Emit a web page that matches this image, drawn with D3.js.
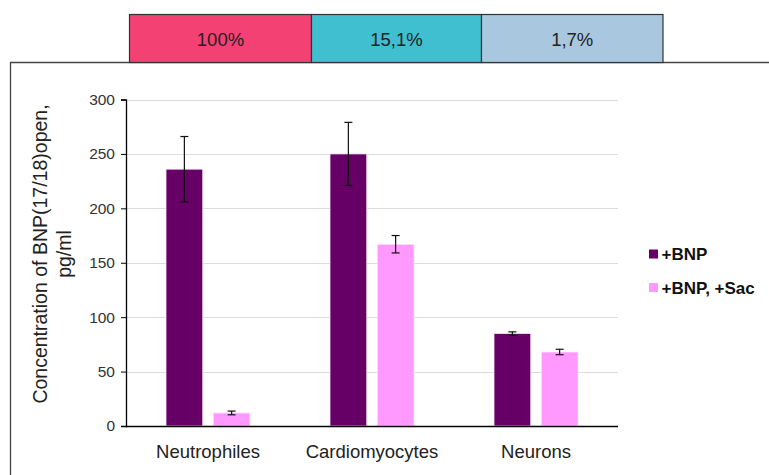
<!DOCTYPE html>
<html>
<head>
<meta charset="utf-8">
<script src="https://cdn.jsdelivr.net/npm/d3@7"></script>
<style>
  body { margin: 0; background: #fff; }
  svg { display: block; font-family: "Liberation Sans", Arial, sans-serif; }
</style>
</head>
<body>
<div id="chart"></div>
<script>
(function(){

    const width = 769;
    const height = 475;

    // data
    const cells = ['Neutrophiles', 'Cardiomyocytes', 'Neurons'];
    const series = ['+BNP', '+BNP, +Sac'];
    const bnp = [236, 250, 85];
    const bnpErr = [30, 29, 1.5];
    const bnpSac = [12, 167, 68];
    const bnpSacErr = [1.7, 8, 2.5];
    const yTicks = [0, 50, 100, 150, 200, 250, 300];
    const boxLabels = ['100%', '15,1%', '1,7%'];

    const colors = ['#660066', '#ff99ff'];
    const boxColors = ['#f44174', '#3fbfd0', '#a9c8df'];
    // header box edges (layout only)
    const boxEdges = [129.5, 311.5, 481.5, 663];

    const margin = {left: 126, right: 151, top: 99.5, bottom: 49};

    const svg = d3.select('#chart')
        .append('svg')
        .attr('width', width)
        .attr('height', height);

    // outer frame (top + left edges only visible)
    svg.append('path')
        .attr('d', 'M10.5,' + height + 'V62.5H' + width)
        .attr('fill', 'none')
        .attr('stroke', '#444')
        .attr('stroke-width', 1.3);

    // percentage boxes above the chart
    const boxes = svg.append('g');
    boxes.selectAll('rect')
        .data(boxLabels)
        .enter().append('rect')
        .attr('x', (d, i) => boxEdges[i])
        .attr('y', 14.5)
        .attr('width', (d, i) => boxEdges[i + 1] - boxEdges[i])
        .attr('height', 48)
        .attr('fill', (d, i) => boxColors[i])
        .attr('stroke', '#333')
        .attr('stroke-width', 1.2);
    boxes.selectAll('text')
        .data(boxLabels)
        .enter().append('text')
        .attr('x', (d, i) => (boxEdges[i] + boxEdges[i + 1]) / 2)
        .attr('y', 46)
        .attr('text-anchor', 'middle')
        .attr('font-size', 18.5)
        .attr('fill', '#222')
        .text(d => d);

    const x0 = d3.scaleBand()
        .domain(cells)
        .range([margin.left, width - margin.right]);

    const x1 = d3.scaleBand()
        .domain(series)
        .range([40, x0.bandwidth() - 40])
        .paddingInner(0.222);

    const y = d3.scaleLinear()
        .domain([0, 300])
        .range([height - margin.bottom, margin.top]);

    // gridlines
    svg.append('g')
        .selectAll('line')
        .data(yTicks.slice(1))
        .enter().append('line')
        .attr('x1', margin.left)
        .attr('x2', width - margin.right)
        .attr('y1', d => Math.round(y(d)) + 0.5)
        .attr('y2', d => Math.round(y(d)) + 0.5)
        .attr('stroke', '#dcdcdc')
        .attr('stroke-width', 1.2);

    // y axis
    const yAxis = svg.append('g')
        .attr('transform', 'translate(' + margin.left + ',0)')
        .call(d3.axisLeft(y).tickValues(yTicks).tickSize(5).tickPadding(6));
    yAxis.select('.domain').attr('stroke', '#000').attr('stroke-width', 1.3);
    yAxis.selectAll('.tick line').attr('stroke', '#000');
    yAxis.selectAll('text')
        .attr('font-size', 15.5)
        .attr('fill', '#333')
        .attr('font-family', '"Liberation Sans", Arial, sans-serif');

    const rows = cells.map((c, i) => ({
        cell: c,
        vals: [
            {s: series[0], v: bnp[i], e: bnpErr[i], c: colors[0]},
            {s: series[1], v: bnpSac[i], e: bnpSacErr[i], c: colors[1]}
        ]
    }));

    const groups = svg.append('g')
        .selectAll('g')
        .data(rows)
        .enter().append('g')
        .attr('transform', d => 'translate(' + x0(d.cell) + ',0)');

    groups.selectAll('rect')
        .data(d => d.vals)
        .enter().append('rect')
        .attr('x', d => x1(d.s))
        .attr('y', d => y(d.v))
        .attr('width', x1.bandwidth())
        .attr('height', d => y(0) - y(d.v))
        .attr('fill', d => d.c)
        .attr('stroke', '#ffe6ff')
        .attr('stroke-width', 0.8);

    // error bars
    const err = groups.selectAll('.err')
        .data(d => d.vals)
        .enter().append('g')
        .attr('class', 'err')
        .attr('stroke', '#111')
        .attr('stroke-width', 1.2);
    const cx = d => x1(d.s) + x1.bandwidth() / 2;
    err.append('line')
        .attr('x1', cx).attr('x2', cx)
        .attr('y1', d => y(d.v + d.e)).attr('y2', d => y(d.v - d.e));
    err.append('line')
        .attr('x1', d => cx(d) - 4).attr('x2', d => cx(d) + 4)
        .attr('y1', d => y(d.v + d.e)).attr('y2', d => y(d.v + d.e));
    err.append('line')
        .attr('x1', d => cx(d) - 4).attr('x2', d => cx(d) + 4)
        .attr('y1', d => y(d.v - d.e)).attr('y2', d => y(d.v - d.e));

    // x axis line
    svg.append('line')
        .attr('x1', margin.left)
        .attr('x2', width - margin.right)
        .attr('y1', y(0) + 0.5)
        .attr('y2', y(0) + 0.5)
        .attr('stroke', '#000')
        .attr('stroke-width', 1.3);

    svg.append('g')
        .selectAll('text')
        .data(cells)
        .enter().append('text')
        .attr('x', d => x0(d) + x0.bandwidth() / 2)
        .attr('y', 458)
        .attr('text-anchor', 'middle')
        .attr('font-size', 18.5)
        .attr('fill', '#222')
        .text(d => d);

    // y title
    const title = svg.append('text')
        .attr('transform', 'translate(47,254) rotate(-90)')
        .attr('text-anchor', 'middle')
        .attr('font-size', 19.5)
        .attr('fill', '#222');
    title.append('tspan').attr('x', 0).attr('y', 0).text('Concentration of BNP(17/18)open,');
    title.append('tspan').attr('x', 0).attr('y', 24).text('pg/ml');

    // legend
    const legend = svg.append('g')
        .selectAll('g')
        .data(series)
        .enter().append('g')
        .attr('transform', (d, i) => 'translate(649,' + (254 + i * 33.5) + ')');
    legend.append('rect')
        .attr('x', 0).attr('y', -4.5)
        .attr('width', 9).attr('height', 9)
        .attr('fill', (d, i) => colors[i]);
    legend.append('text')
        .attr('x', 12.5)
        .attr('y', 6)
        .attr('font-size', 17)
        .attr('font-weight', 'bold')
        .attr('fill', '#111')
        .text(d => d);

}());
</script>
</body>
</html>
